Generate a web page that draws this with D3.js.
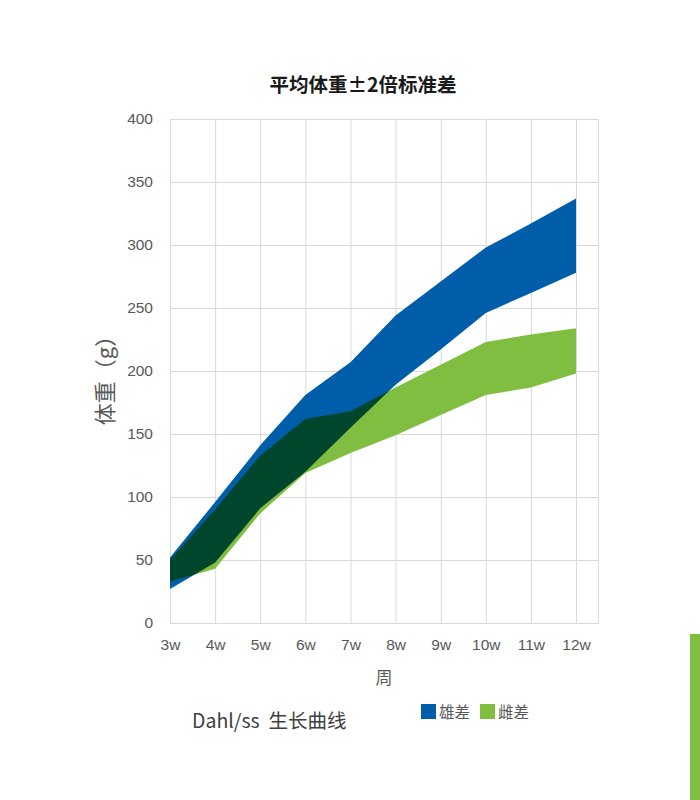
<!DOCTYPE html>
<html>
<head>
<meta charset="utf-8">
<script src="https://cdn.jsdelivr.net/npm/d3@7"></script>
<style>
  body { margin: 0; background: #fff; }
  svg { display: block; font-family: "Noto Sans CJK SC", "Noto Sans", sans-serif; }
</style>
</head>
<body>
<svg id="chart" width="700" height="800"></svg>
<script>
const weeks = ["3w", "4w", "5w", "6w", "7w", "8w", "9w", "10w", "11w", "12w"];
const yTicks = [0, 50, 100, 150, 200, 250, 300, 350, 400];

// 雄 (male) band: mean ± 2SD
const maleUpper = [52, 96, 141, 181, 207, 244, 271, 298, 317, 337];
const maleLower = [27, 48, 91, 120, 155, 189, 217, 246, 262, 278];
// 雌 (female) band
const femaleUpper = [50, 90, 133, 162, 168, 187, 205, 223, 229, 234];
const femaleLower = [33, 43, 87, 119, 135, 149, 165, 181, 187, 198];

const seriesNames = ["雄差", "雌差"];

(function () {
  const svg = d3.select("#chart"),
    margin = { top: 119, left: 170 },
    width = 429,
    height = 504;

  const chart = svg.append("g").attr("transform", `translate(${margin.left},${margin.top})`);

  const x = d3.scalePoint().domain(weeks).range([0, 406]);
  const step = x.step();
  const y = d3.scaleLinear().domain([0, 400]).range([height, 0]);

  const color = d3.scaleOrdinal().domain(seriesNames).range(["#005DAA", "#7FBE41"]);

  // horizontal grid + y labels
  const yAxis = chart.append("g")
    .call(d3.axisLeft(y).tickValues(yTicks).tickSize(-width).tickPadding(17));
  yAxis.select(".domain").remove();
  yAxis.selectAll(".tick line").attr("stroke", "#d9d9d9");
  yAxis.selectAll(".tick text")
    .style("font-size", "15.5px")
    .attr("fill", "#595959");

  // vertical grid
  const xAxis = chart.append("g")
    .attr("transform", `translate(0,${height})`)
    .call(d3.axisBottom(x).tickSize(-height).tickPadding(16));
  xAxis.select(".domain").remove();
  xAxis.selectAll(".tick line").attr("stroke", "#d9d9d9");
  xAxis.selectAll(".tick text")
    .style("font-size", "15.5px")
    .attr("fill", "#595959");

  chart.append("line")
    .attr("x1", x(weeks[weeks.length - 1]) + step / 2)
    .attr("x2", x(weeks[weeks.length - 1]) + step / 2)
    .attr("y1", 0).attr("y2", height)
    .attr("stroke", "#d9d9d9");

  const band = (lo, hi) => d3.area()
    .x((d, i) => x(weeks[i]))
    .y0((d, i) => y(lo[i]))
    .y1((d, i) => y(hi[i]));

  const bands = chart.append("g").style("isolation", "isolate");

  bands.append("path")
    .datum(weeks)
    .attr("d", band(maleLower, maleUpper))
    .attr("fill", color("雄差"));

  bands.append("path")
    .datum(weeks)
    .attr("d", band(femaleLower, femaleUpper))
    .attr("fill", color("雌差"))
    .style("mix-blend-mode", "multiply");

  // title
  svg.append("text")
    .attr("x", 363)
    .attr("y", 92)
    .attr("text-anchor", "middle")
    .style("font-size", "19.5px")
    .style("font-weight", "bold")
    .attr("fill", "#1a1a1a")
    .text("平均体重±2倍标准差");

  // axis titles
  svg.append("text")
    .attr("x", 384)
    .attr("y", 684)
    .attr("text-anchor", "middle")
    .style("font-size", "17px")
    .attr("fill", "#595959")
    .text("周");

  svg.append("text")
    .attr("transform", "translate(113,375) rotate(-90)")
    .attr("text-anchor", "middle")
    .style("font-size", "22px")
    .attr("fill", "#595959")
    .text("体重（g）");

  svg.append("text")
    .attr("x", 192)
    .attr("y", 728)
    .style("font-size", "19.5px")
    .style("white-space", "pre")
    .attr("fill", "#404040")
    .text("Dahl/ss  生长曲线");

  // legend
  const legend = svg.selectAll(".legend")
    .data(seriesNames)
    .enter().append("g")
    .attr("class", "legend")
    .attr("transform", (d, i) => `translate(${421 + i * 59},704)`);

  legend.append("rect")
    .attr("width", 15)
    .attr("height", 15)
    .attr("fill", d => color(d));

  legend.append("text")
    .attr("x", 18)
    .attr("y", 13.5)
    .style("font-size", "15.5px")
    .attr("fill", "#595959")
    .text(d => d);

  // green accent bar at right edge
  svg.append("rect")
    .attr("x", 690).attr("y", 634)
    .attr("width", 10).attr("height", 166)
    .attr("fill", "#7FBE41");
})();
</script>
</body>
</html>
